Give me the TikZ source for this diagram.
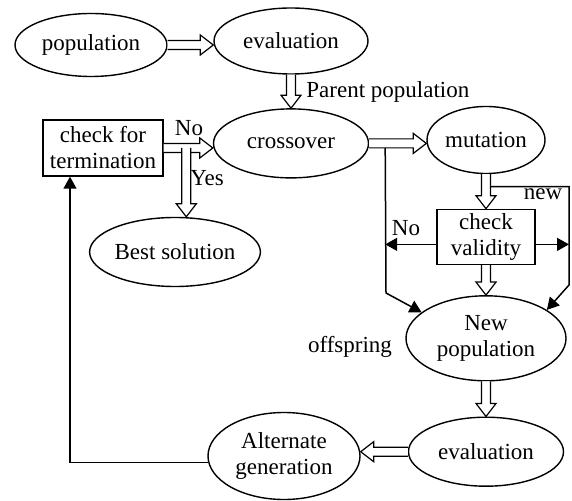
\documentclass[tikz,border=0pt]{standalone}
\usepackage{fontspec}
\setmainfont{Liberation Serif}
\usetikzlibrary{arrows.meta,positioning,shapes.geometric,calc}

% hollow block arrow from #1 to #2
\newcommand{\hollow}[2]{%
  \draw[harrow] let \p1=($(#2)-(#1)$), \n1={atan2(\y1,\x1)} in
    ($(#1)+(\n1+90:2.25pt)$)
    -- ($(#2)+(\n1+180:6.5pt)+(\n1+90:2.25pt)$)
    -- ($(#2)+(\n1+180:6.5pt)+(\n1+90:5pt)$)
    -- (#2)
    -- ($(#2)+(\n1+180:6.5pt)+(\n1-90:5pt)$)
    -- ($(#2)+(\n1+180:6.5pt)+(\n1-90:2.25pt)$)
    -- ($(#1)+(\n1-90:2.25pt)$);}

\begin{document}
\begin{tikzpicture}[
    x=0.5pt, y=-0.5pt,
    font=\fontsize{11.5}{13}\selectfont,
    oval/.style={draw, ellipse, line width=0.7pt, inner sep=0pt, align=center},
    box/.style={draw, rectangle, line width=0.7pt, inner sep=0pt, align=center},
    harrow/.style={draw, fill=white, line width=0.6pt, line join=miter},
    arr/.style={-{Triangle[length=6pt,width=6.5pt]}, line width=0.75pt},
    lbl/.style={inner sep=0pt}
  ]
    \useasboundingbox (0,0) rectangle (572,501);

    %% ── top row ──
    \node[oval, minimum width=76pt, minimum height=31.5pt] (pop)   at (91,45)  {population};
    \node[oval, minimum width=77pt, minimum height=33pt]   (eval1) at (291,41) {evaluation};
    \node[oval, minimum width=77.5pt, minimum height=34.5pt, below=16.75pt of eval1] (cross) {crossover};

    %% ── termination ──
    \node[box, minimum width=60pt, minimum height=28pt] (check) at (103,148) {check for\\termination};
    \node[oval, minimum width=85pt, minimum height=34.5pt] (best) at (175,252) {Best solution};

    %% ── right column ──
    \node[oval, minimum width=59pt, minimum height=33.5pt] (mut) at (486,140) {mutation};
    \node[box, minimum width=49pt, minimum height=27.5pt, below=17.25pt of mut] (valid) {check\\validity};
    \node[oval, minimum width=80pt, minimum height=42.5pt, below=15pt of valid] (np) {New\\population};
    \node[oval, minimum width=77.5pt, minimum height=34.5pt, below=17.5pt of np] (eval2) {evaluation};
    \node[oval, minimum width=76pt, minimum height=43.5pt] (alt) at (284,456) {Alternate\\generation};

    %% ── labels ──
    \node[lbl, anchor=west] (parent) at (306,92) {Parent population};
    \node[lbl] (no1)  at (189,128) {No};
    \node[lbl] (yes)  at (207,178) {Yes};
    \node[lbl] (no2)  at (406,228) {No};
    \node[lbl] (new)  at (543,194) {new};
    \node[lbl] (offs) at (350,347) {offspring};

    %% ── helper points ──
    \coordinate (ybr) at ($(check.east)!0.46!(cross.west |- check.east)$);
    \coordinate (xo)  at ($(cross.east)+(16,4.5)$);
    \coordinate (xl)  at (386,293);
    \coordinate (nw)  at ($(mut.south)+(4.5,12.5)$);
    \coordinate (nr)  at (569,285);
    \coordinate (vw)  at ([yshift=-3.75pt]valid.west);
    \coordinate (ve)  at ([yshift=-3.75pt]valid.east);
    \coordinate (fb)  at ([xshift=-16.5pt]check.south);

    %% ── thin connectors ──
    \draw[arr] (xo) -- (xl) -- (np.158);
    \draw[arr] (nw) -| (nr) -- (np.25);
    \draw[arr] (vw) -- (vw -| xo);
    \draw[arr] (ve) -- (ve -| nr);
    \draw[arr] (alt.185) -| (fb);

    %% ── block arrows ──
    \hollow{pop.east}{eval1.west |- pop.east}
    \hollow{eval1.south}{cross.north}
    \hollow{check.east}{cross.west |- check.east}
    \hollow{ybr}{ybr |- best.north}
    \hollow{cross.east}{mut.west |- cross.east}
    \hollow{mut.south}{valid.north}
    \hollow{valid.south}{np.north}
    \hollow{np.south}{eval2.north}
    \hollow{eval2.west}{alt.east |- eval2.west}
  \end{tikzpicture}
\end{document}
